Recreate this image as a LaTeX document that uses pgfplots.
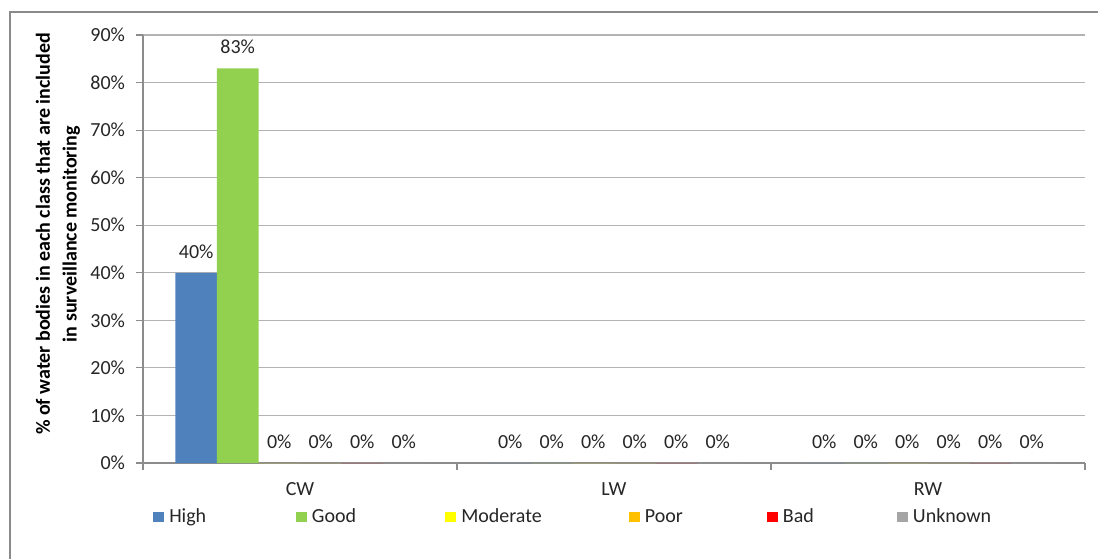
\documentclass[border=0pt]{standalone}
\usepackage{pgfplots}
\pgfplotsset{compat=1.18}
\usepackage{fontspec}
\setmainfont{Carlito}
\definecolor{cHigh}{HTML}{4F81BD}
\definecolor{cGood}{HTML}{92D050}
\definecolor{cMod}{HTML}{FFFF00}
\definecolor{cPoor}{HTML}{FFC000}
\definecolor{cBad}{HTML}{FF0000}
\definecolor{cUnk}{HTML}{A5A5A5}
\definecolor{gridc}{HTML}{B3B3B3}
\definecolor{axc}{HTML}{8C8C8C}
\definecolor{framec}{HTML}{8A8A8A}
\definecolor{txt}{HTML}{262626}
\begin{document}
\begin{tikzpicture}
\begin{axis}[
  at={(0pt,0pt)}, anchor=south west,
  scale only axis, width=706.5pt, height=321pt,
  /pgf/number format/assume math mode=true,
  font=\fontsize{15pt}{18pt}\selectfont,
  ybar=0pt, bar width=31.125pt,
  xmin=-0.5, xmax=2.5, ymin=0, ymax=90,
  ytick={0,10,...,90},
  yticklabel={\pgfmathprintnumber{\tick}\%},
  xtick={-0.5,0.5,1.5,2.5},
  x tick label as interval,
  xticklabels={CW,LW,RW},
  axis x line*=bottom, axis y line*=left,
  axis line style={axc, line width=0.9pt},
  tick align=outside, major tick length=5pt,
  tick style={axc, line width=0.9pt},
  ymajorgrids, grid style={gridc, line width=0.9pt},
  ticklabel style={text=txt},
  yticklabel style={xshift=-5pt},
  xticklabel style={yshift=-6pt},
  ylabel={\textbf{\% of water bodies in each class that are included}\\\textbf{in surveillance monitoring}},
  ylabel style={at={(axis description cs:-0.0903,0.535)}, anchor=center, align=center, text=black, font=\fontsize{15pt}{20pt}\selectfont},
  nodes near coords={\pgfmathprintnumber{\pgfplotspointmeta}\%},
  nodes near coords style={anchor=base, yshift=11pt, inner sep=0pt, text=txt, font=\fontsize{15pt}{18pt}\selectfont},
  every axis plot/.append style={draw=none},
  legend columns=6,
  legend image code/.code={\fill[#1] (0pt,-4.1pt) rectangle (8.25pt,4.1pt);},
  legend style={at={(0,0)}, anchor=west, xshift=7.5pt, yshift=-40.5pt, draw=none, inner sep=0pt, fill=none,
    font=\fontsize{15pt}{18pt}\selectfont, text=txt,
    /tikz/every even column/.append style={column sep=0pt},
    /tikz/every odd column/.append style={column sep=1.75pt}},
]
\addplot[fill=cHigh] coordinates {(0,40) (1,0) (2,0)};
\addplot[fill=cGood] coordinates {(0,83) (1,0) (2,0)};
\addplot[fill=cMod] coordinates {(0,0) (1,0) (2,0)};
\addplot[fill=cPoor] coordinates {(0,0) (1,0) (2,0)};
\addplot[fill=cBad] coordinates {(0,0) (1,0) (2,0)};
\addplot[fill=cUnk] coordinates {(0,0) (1,0) (2,0)};
\legend{\makebox[93pt][l]{High},\makebox[98pt][l]{Good},\makebox[123.75pt][l]{Moderate},\makebox[89.5pt][l]{Poor},\makebox[83.5pt][l]{Bad},\makebox[60pt][l]{Unknown}}
\end{axis}
\draw[framec, line width=1.5pt] (-99.75pt,-90pt) -- (-99.75pt,338.25pt) -- (740pt,338.25pt);
\pgfresetboundingbox
\path[use as bounding box] (-107.25pt,-71.25pt) rectangle (716.25pt,347.25pt);
\end{tikzpicture}
\end{document}
